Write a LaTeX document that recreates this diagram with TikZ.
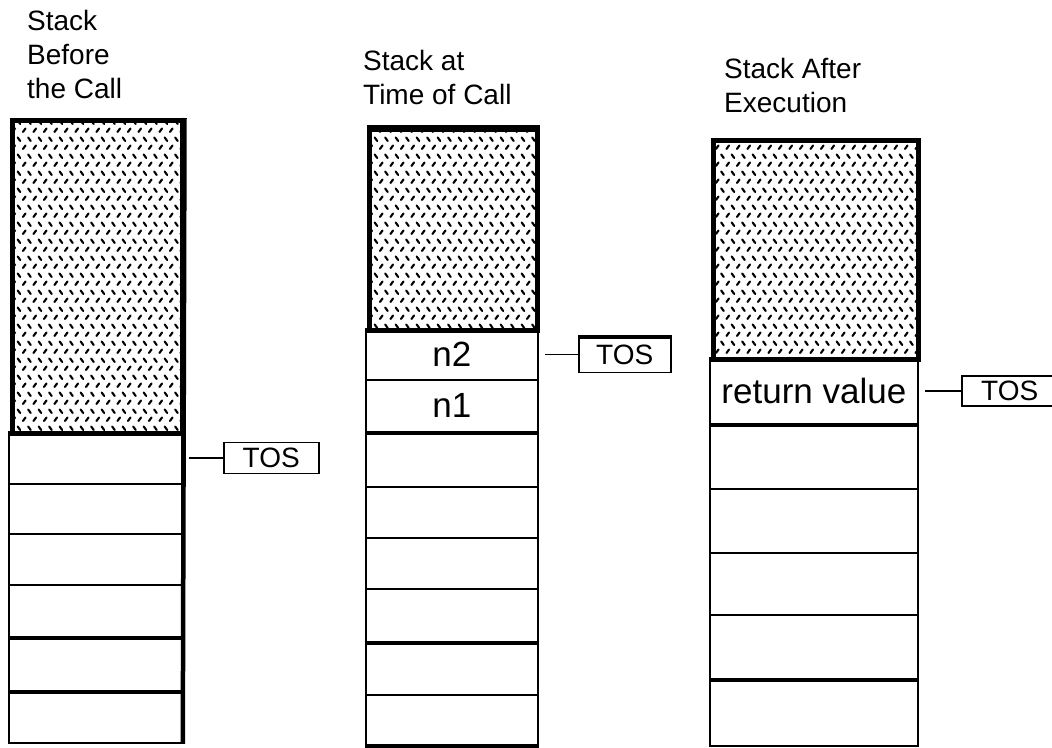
\documentclass[tikz,border=0pt]{standalone}
\usepackage{fontspec}
\setmainfont{Liberation Sans}
\usetikzlibrary{patterns}

\pgfdeclarepatternformonly{squig}{\pgfqpoint{-1pt}{-1pt}}{\pgfqpoint{11.5pt}{18pt}}{\pgfqpoint{10.5pt}{17pt}}{%
  \pgfsetlinewidth{2.1pt}%
  \pgfsetroundcap
  \pgfpathmoveto{\pgfqpoint{2pt}{3pt}}\pgfpathlineto{\pgfqpoint{4.5pt}{6.5pt}}%
  \pgfpathmoveto{\pgfqpoint{7.2pt}{14.5pt}}\pgfpathlineto{\pgfqpoint{9.7pt}{11pt}}%
  \pgfusepath{stroke}%
}

\tikzset{
  cell/.style={draw, line width=1.8pt, inner sep=0pt, anchor=north west,
    font=\fontsize{35}{40}\selectfont},
  shadebox/.style={draw, line width=4.5pt, pattern=squig, inner sep=0pt, anchor=north west},
  thickline/.style={line width=4.5pt},
  tosbox/.style={draw, line width=1.8pt, inner sep=0pt, anchor=west,
    font=\fontsize{28}{30}\selectfont},
  conn/.style={line width=1.8pt, shorten <=6pt},
  title/.style={anchor=base west, align=left, inner sep=0pt,
    font=\fontsize{28}{34}\selectfont},
}

\begin{document}
\begin{tikzpicture}[x=1pt, y=-1pt]
\useasboundingbox (0,0) rectangle (1052,747);

% ---------- titles (base = baseline of the last line) ----------
\node[title] (t1) at (27,98) {Stack\\Before\\the Call};
\node[title] (t2) at (363,104) {Stack at\\Time of Call};
\node[title] (t3) at (724,112) {Stack After\\Execution};

% ---------- stack 1 ----------
\foreach \a/\b/\txt [count=\i] in {431/483/{},483/533/{},533/584/{},584/636/{},636/690/{},690/742/{}}{
  \pgfmathsetmacro{\h}{\b-\a}
  \node[cell, minimum width=173pt, minimum height=\h pt] (s1c\i) at (8,\a) {\txt};
}
\draw[thickline] (s1c4.south west) -- (s1c4.south east);
\draw[thickline] (s1c5.south west) -- (s1c5.south east);
\node[shadebox, minimum width=170pt, minimum height=313pt] (s1top) at (10,118) {};
\draw[thickline] (s1top.north east) -- (s1c6.south east);

% ---------- stack 2 ----------
\foreach \a/\b/\txt [count=\i] in {328/379/n2,379/431/n1,431/486/{},486/537/{},537/588/{},588/641/{},641/694/{},694/744/{}}{
  \pgfmathsetmacro{\h}{\b-\a}
  \node[cell, minimum width=172pt, minimum height=\h pt] (s2c\i) at (365,\a) {\txt};
}
\draw[thickline] (s2c2.south west) -- (s2c2.south east);
\draw[thickline] (s2c6.south west) -- (s2c6.south east);
\draw[thickline] (s2c8.south west) -- (s2c8.south east);
\node[shadebox, minimum width=168pt, minimum height=201pt] (s2top) at (367,127) {};
\draw[line width=6pt] ([yshift=-1pt]s2top.north west) -- ([yshift=-1pt]s2top.north east);

% ---------- stack 3 ----------
\foreach \a/\b/\txt [count=\i] in {357/423/{return value},423/488/{},488/552/{},552/614/{},614/678/{},678/745/{}}{
  \pgfmathsetmacro{\h}{\b-\a}
  \node[cell, minimum width=208pt, minimum height=\h pt] (s3c\i) at (709,\a) {\txt};
}
\draw[thickline] (s3c1.south west) -- (s3c1.south east);
\draw[thickline] (s3c5.south west) -- (s3c5.south east);
\node[shadebox, minimum width=205pt, minimum height=219pt] (s3top) at (711,138) {};

% ---------- TOS markers ----------
\node[tosbox, minimum width=95pt, minimum height=31pt] (tos1) at ([xshift=40pt]s1c1.east) {TOS};
\draw[conn] (s1c1.east) -- (tos1.west);

\node[tosbox, minimum width=92pt, minimum height=36pt] (tos2) at ([xshift=39pt]s2c1.east) {TOS};
\draw[line width=4pt] ([yshift=-1pt]tos2.north west) -- ([yshift=-1pt]tos2.north east);
\draw[conn] (s2c1.east) -- (tos2.west);

\node[tosbox, minimum width=96pt, minimum height=30pt] (tos3) at ([xshift=42pt]s3c1.east) {TOS};
\draw[conn] (s3c1.east) -- (tos3.west);
\end{tikzpicture}
\end{document}
